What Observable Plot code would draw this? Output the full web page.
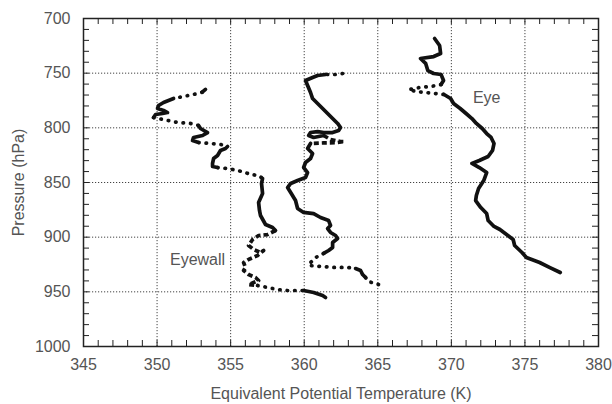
<!DOCTYPE html>
<html><head><meta charset="utf-8">
<script src="https://cdn.jsdelivr.net/npm/d3@7"></script>
<script src="https://cdn.jsdelivr.net/npm/@observablehq/plot@0.6"></script>
<style>
body{margin:0;background:#fff;}
#chart svg{display:block;}
</style></head><body><div id="chart"></div>
<script>
// ---- data (theta in K, pressure in hPa) ----
const eyeTheta = [368.86,369.2,369.27,368.8,367.9,368.25,368.4,368.8,369.3,369.47,369.3,368.6,367.9,367.1,367.6,368.25,368.9,369.5,369.95,370.15,370.6,371.0,371.4,371.7,372.1,372.4,372.7,372.9,372.8,372.5,371.9,371.4,371.9,372.4,372.2,371.85,371.7,371.65,372.0,372.4,372.5,372.9,373.3,373.75,374.2,374.3,374.8,375.1,376.0,376.7,377.4];
const eyePressure = [718.3,724.7,732,734.8,736.6,741,747.6,750.3,751.2,756.7,760.4,762.2,763,765,766.8,767.7,768.6,769.5,773.2,777.7,782.3,786.9,791.5,796,800.6,805.2,808.8,814.3,820.7,826.2,829.9,832.6,836.3,840.9,848.2,855.5,861.9,866.5,872.9,878.4,884.8,890.2,893,897.6,902.1,907.6,914,918.6,923.2,927.8,932.3];
const eyeRuns = [[11,"s"],[7,"d"],[33,"s"]];

const wallTheta = [353.29,353.07,352.48,351.8,351.12,350.44,350.1,350.03,350.44,350.71,350.37,349.9,349.76,350.44,351.39,352.27,352.82,352.95,353.43,353.09,352.48,352.41,352.82,353.63,354.31,354.79,354.65,354.31,354.11,353.84,353.77,353.77,354.11,354.79,355.47,356.01,356.35,356.9,357.17,357.1,357.17,356.9,356.96,357.03,357.37,357.85,358.05,357.5,356.9,356.49,356.22,356.56,357.03,357.24,356.83,356.22,355.88,356.01,355.88,356.22,356.69,356.9,356.56,356.22,356.83,357.5,358.19,358.87,359.55,359.96,360.64,361.25,361.45];
const wallPressure = [764.9,767.4,769.5,771.3,773.2,776.8,779.6,782.3,784.1,786.0,786.9,787.8,790.6,792.4,795.1,796.0,797.9,800.6,804.3,807.0,808.8,811.6,813.4,814.3,815.2,817.1,818.9,820.7,825.3,828.1,832.6,835.4,836.3,837.2,839.0,840.9,842.7,843.6,846.3,850.9,860.1,868.3,875.6,880.2,888.4,891.2,893.9,897.6,898.5,902.1,907.6,911.3,914.0,912.2,916.8,920.4,923.2,927.7,930.5,934.2,936.9,939.6,941.5,943.3,944.2,946.0,947.9,948.8,948.8,948.8,950.6,953.4,955.2];
const wallRuns = [[2,"s"],[3,"d"],[8,"s"],[4,"d"],[6,"s"],[3,"d"],[7,"s"],[6,"d"],[8,"s"],[18,"b"],[5,"d"],[3,"s"]];

const midTheta = [362.61,362.13,361.45,360.91,360.57,360.09,360.23,360.43,360.57,360.91,361.25,361.59,361.93,362.27,362.47,362.34,361.93,361.32,360.91,360.43,360.3,360.64,361.32,361.79,362.47,362.74,362.2,361.3,360.43,360.23,360.57,360.43,360.09,359.96,360.23,360.09,359.55,359.08,358.87,359.08,359.41,359.55,359.96,360.64,361.11,361.66,361.79,361.59,361.79,362.13,362.27,361.93,361.93,361.66,361.32,360.77,360.43,360.3,361.11,362.0,362.95,363.49,363.83,363.97,364.17,364.37,365.05];
const midPressure = [750.3,751.2,751.2,752.1,754.0,756.7,761.3,767.7,773.2,777.7,782.3,786.9,791.5,796.0,799.7,802.4,804.3,804.3,803.4,804.3,807.0,808.8,807.0,810.7,812.5,812.5,813.6,813.8,814.3,818.9,823.5,828.1,831.7,836.3,840.9,845.4,848.2,850.9,854.6,859.2,866.5,873.8,877.4,878.4,882.0,884.8,889.3,892.1,895.7,898.5,901.2,904.9,909.5,912.2,914.9,918.6,923.2,925.9,926.8,927.7,927.7,928.7,930.5,934.2,936.9,940.6,943.3];
const midRuns = [[1,"s"],[2,"d"],[20,"s"],[6,"b"],[26,"s"],[7,"d"],[3,"s"],[2,"d"]];

const xTicks = [345,350,355,360,365,370,375,380];
const yTicks = [700,750,800,850,900,950,1000];
const xGrid = [350,355,360,365,370,375];
const yGrid = [750,800,850,900,950];
const xMinor = d3.range(346,380,1);
const yMinor = d3.range(710,1000,10);
const labelText = ["Eye","Eyewall"];
const labelTheta = [372.4,352.75];
const labelPressure = [773,921];

// ---- build segments ----
function build(theta, pressure, runs, name) {
  const style = runs.flatMap(([n,s]) => Array(n).fill(s));
  const out = [];
  let run = -1, cur = null;
  for (let i = 1; i < theta.length; i++) {
    const s = style[i];
    if (s !== cur) { run++; cur = s; out.push({theta: theta[i-1], pressure: pressure[i-1], style: s, z: name + run}); }
    out.push({theta: theta[i], pressure: pressure[i], style: s, z: name + run});
  }
  return out;
}
const all = [
  ...build(eyeTheta, eyePressure, eyeRuns, "eye"),
  ...build(wallTheta, wallPressure, wallRuns, "wall"),
  ...build(midTheta, midPressure, midRuns, "mid")
];
const labels = labelText.map((t,i) => ({text: t, theta: labelTheta[i], pressure: labelPressure[i]}));

const W = 612, H = 404, mT = 18, mB = 58, mL = 83, mR = 14;
const plotH = H - mT - mB, plotW = W - mL - mR;
const lineOpts = {x: "theta", y: "pressure", z: "z", stroke: "#111", strokeWidth: 3.7, strokeLinejoin: "round", strokeLinecap: "round"};

const chart = Plot.plot({
  width: W, height: H,
  marginTop: mT, marginBottom: mB, marginLeft: mL, marginRight: mR,
  style: {fontFamily: "'Liberation Sans', Arial, sans-serif", background: "#fff"},
  x: {domain: [345, 380]},
  y: {domain: [700, 1000], reverse: true},
  marks: [
    Plot.gridX(xGrid, {stroke: "#444", strokeOpacity: 1, strokeWidth: 1, strokeDasharray: "1.2,1.8"}),
    Plot.gridY(yGrid, {stroke: "#444", strokeOpacity: 1, strokeWidth: 1, strokeDasharray: "1.2,1.8"}),
    Plot.tickX(xMinor, {x: d => d, insetTop: plotH - 6, stroke: "#222"}),
    Plot.tickX(xMinor, {x: d => d, insetBottom: plotH - 6, stroke: "#222"}),
    Plot.tickY(yMinor, {y: d => d, insetRight: plotW - 6, stroke: "#222"}),
    Plot.tickY(yMinor, {y: d => d, insetLeft: plotW - 6, stroke: "#222"}),
    Plot.frame({stroke: "#222", strokeWidth: 1.5}),
    Plot.line(all.filter(d => d.style === "s"), lineOpts),
    Plot.line(all.filter(d => d.style === "b"), {...lineOpts, strokeDasharray: "5,3", strokeLinecap: "butt"}),
    Plot.line(all.filter(d => d.style === "d"), {...lineOpts, strokeDasharray: "0.5,7"}),
    Plot.text(labels, {x: "theta", y: "pressure", text: "text", fontSize: 16, fill: "#555"}),
    Plot.axisX(xTicks, {anchor: "bottom", tickSize: 0, tickPadding: 12, fontSize: 16, fill: "#555", tickFormat: d => String(d),
      label: "Equivalent Potential Temperature (K)", labelAnchor: "center", labelArrow: "none", labelOffset: 52}),
    Plot.axisY(yTicks, {anchor: "left", tickSize: 0, tickPadding: 13, fontSize: 16, fill: "#555", tickFormat: d => String(d),
      label: "Pressure (hPa)", labelAnchor: "center", labelArrow: "none", labelOffset: 71})
  ]
});
document.getElementById("chart").appendChild(chart);
</script>
</body></html>
